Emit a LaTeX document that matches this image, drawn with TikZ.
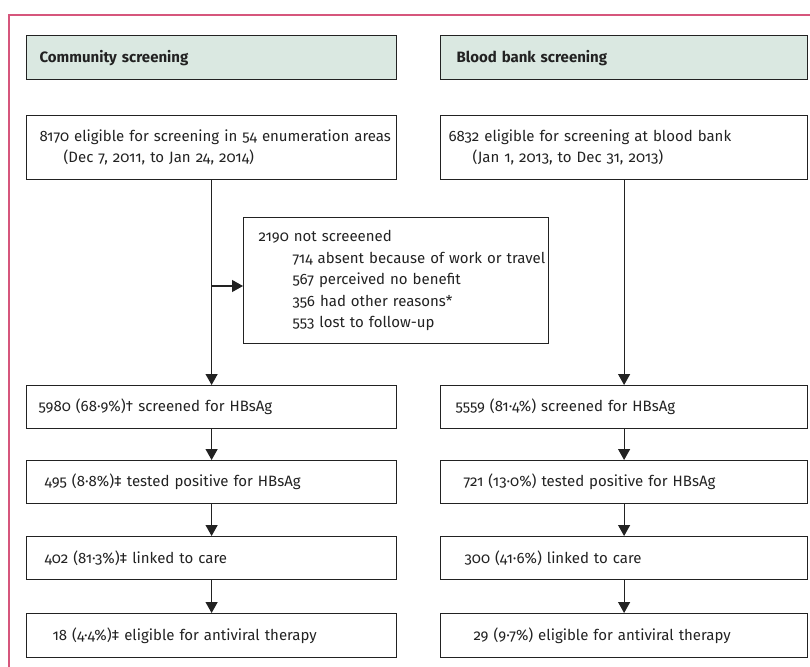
\documentclass[tikz,border=0pt]{standalone}
\usepackage{fontspec}
\setmainfont{Fira Sans}[Numbers={OldStyle,Proportional}]
\usetikzlibrary{arrows.meta}
\definecolor{framepink}{RGB}{214,86,124}
\definecolor{headfill}{RGB}{218,232,225}
\definecolor{inkgray}{RGB}{34,34,34}

\tikzset{
  stage/.style={draw=inkgray, line width=1.2pt, anchor=north west, align=left,
    inner xsep=8pt, inner ysep=0pt, text width=#1, text=inkgray,
    font=\fontsize{15}{21.5}\selectfont},
  header/.style={stage=#1, fill=headfill, minimum height=44pt,
    font=\fontsize{15}{21.5}\selectfont\bfseries},
  flow/.style={draw=inkgray, line width=1.2pt, -{Triangle[width=12pt,length=11pt]}}
}

\begin{document}
\begin{tikzpicture}[x=1pt,y=-1pt]
\useasboundingbox (0,0) rectangle (810,666);
% outer frame
\draw [framepink, line width=1.4pt] (9,680) -- (9,15) -- (830,15);

% community column
\node [header=354pt] (comhead) at (26,35) {\hspace*{5pt}Community screening};
\node [stage=354pt, minimum height=64pt] (comelig) at (26,115)
  {\hspace*{5pt}\mbox{8170 eligible for screening in 54 enumeration areas}\\\hspace*{29pt}(Dec 7, 2011, to Jan 24, 2014)};
\node [stage=297pt, inner xsep=4pt, minimum height=126pt] (comskip) at (243,217)
  {\hspace*{11pt}2190 not screeened\\
   \hspace*{45pt}\mbox{714 absent because of work or travel}\\
   \hspace*{45pt}567 perceived no benefit\\
   \hspace*{45pt}356 had other reasons*\\
   \hspace*{45pt}553 lost to follow-up};
\node [stage=354pt, minimum height=43pt] (comscr) at (26,385) {\hspace*{4pt}5980 (68·9\%)† screened for HBsAg};
\node [stage=354pt, minimum height=43pt] (compos) at (26,460) {\hspace*{10pt}495 (8·8\%)‡ tested positive for HBsAg};
\node [stage=354pt, minimum height=43pt] (comcare) at (26,536) {\hspace*{10pt}402 (81·3\%)‡ linked to care};
\node [stage=354pt, minimum height=44pt] (comanti) at (26,613) {\hspace*{18pt}18 (4·4\%)‡ eligible for antiviral therapy};

% blood bank column
\node [header=351pt] (bankhead) at (440,35) {\hspace*{8pt}Blood bank screening};
\node [stage=351pt, minimum height=64pt] (bankelig) at (440,115)
  {6832 eligible for screening at blood bank\\\hspace*{24pt}(Jan 1, 2013, to Dec 31, 2013)};
\node [stage=351pt, minimum height=43pt] (bankscr) at (440,385) {\hspace*{7pt}5559 (81·4\%) screened for HBsAg};
\node [stage=351pt, minimum height=43pt] (bankpos) at (440,460) {\hspace*{15pt}721 (13·0\%) tested positive for HBsAg};
\node [stage=351pt, minimum height=43pt] (bankcare) at (440,536) {\hspace*{16pt}300 (41·6\%) linked to care};
\node [stage=351pt, minimum height=44pt] (bankanti) at (440,613) {\hspace*{25pt}29 (9·7\%) eligible for antiviral therapy};

% connectors
\coordinate (split) at (comelig.south |- 0,286);
\draw [flow] (comelig) -- (comscr);
\draw [flow] (split) -- (split -| comskip.west);
\draw [flow] (comscr) -- (compos);
\draw [flow] (compos) -- (comcare);
\draw [flow] (comcare) -- (comanti);
\draw [flow] (bankelig) -- (bankscr);
\draw [flow] (bankscr) -- (bankpos);
\draw [flow] (bankpos) -- (bankcare);
\draw [flow] (bankcare) -- (bankanti);
\end{tikzpicture}
\end{document}
